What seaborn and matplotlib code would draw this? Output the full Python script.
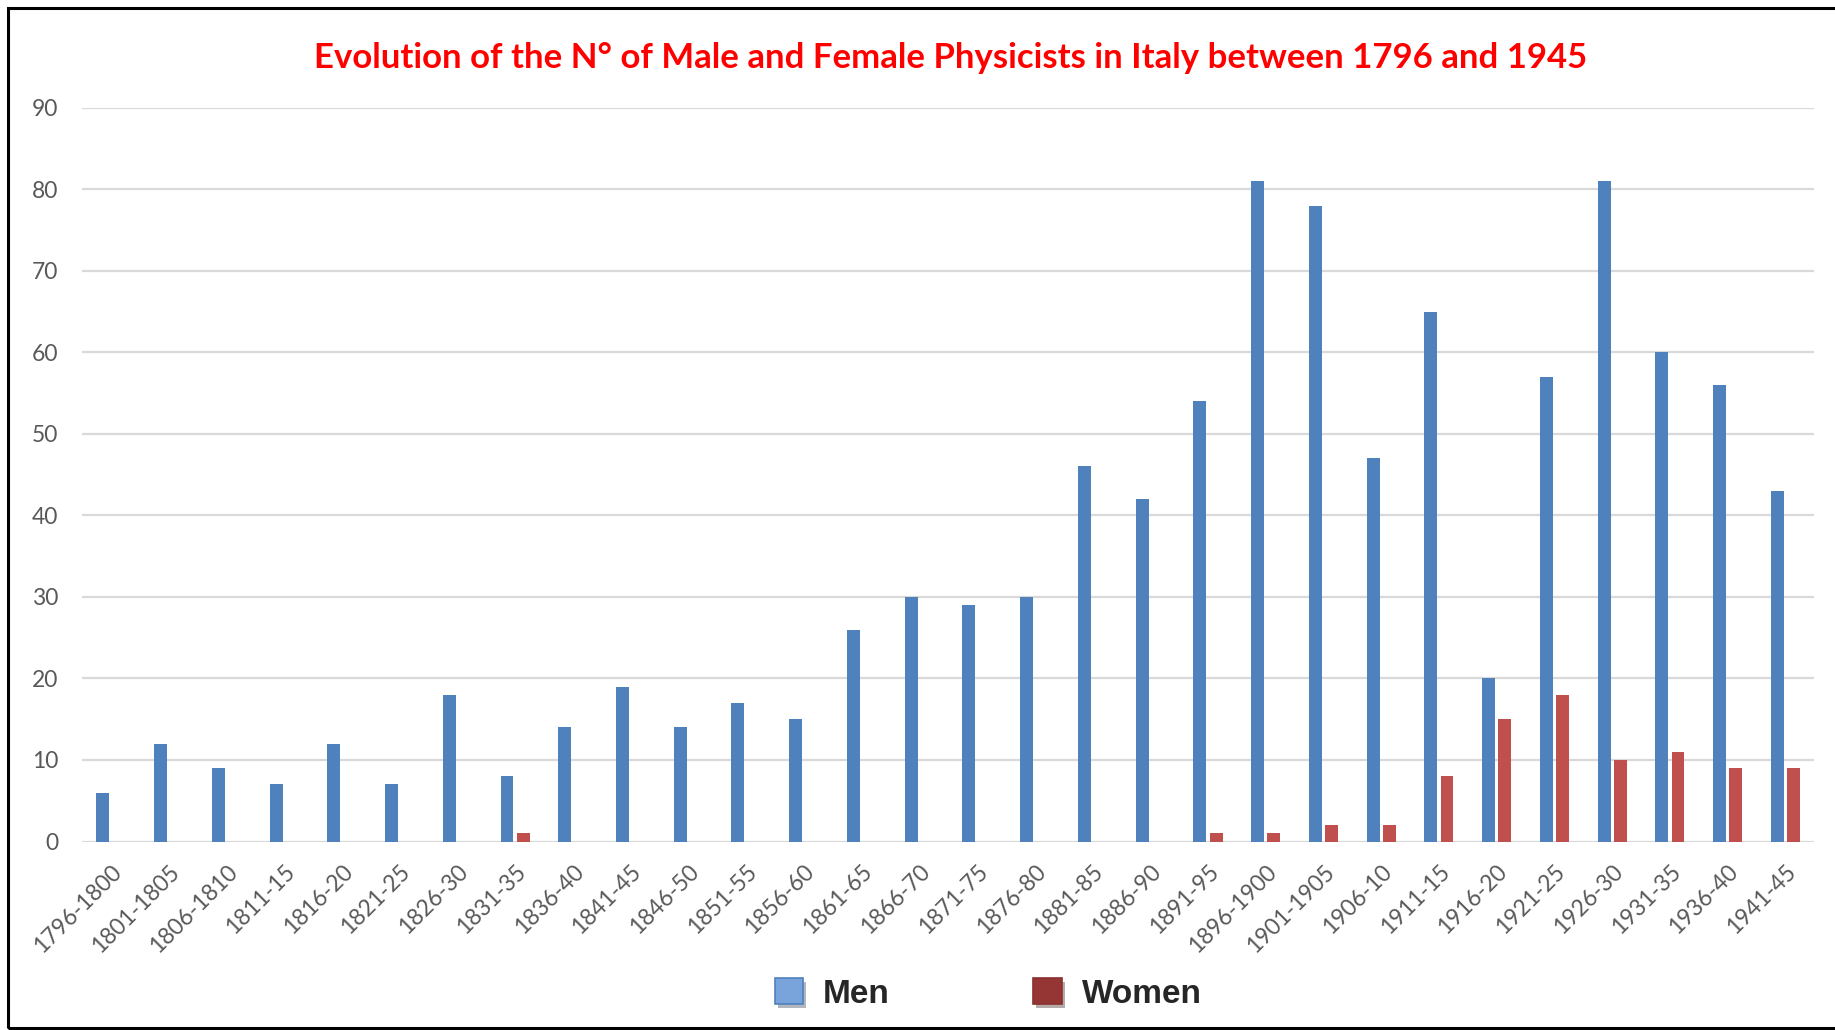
import numpy as np
import pandas as pd
import matplotlib
matplotlib.use("Agg")
import matplotlib.pyplot as plt
import matplotlib.patheffects as pe
from matplotlib.patches import Patch, Rectangle
import seaborn as sns

# Données
periodes = ["1796-1800", "1801-1805", "1806-1810", "1811-15", "1816-20", "1821-25",
            "1826-30", "1831-35", "1836-40", "1841-45", "1846-50", "1851-55",
            "1856-60", "1861-65", "1866-70", "1871-75", "1876-80", "1881-85",
            "1886-90", "1891-95", "1896-1900", "1901-1905", "1906-10", "1911-15",
            "1916-20", "1921-25", "1926-30", "1931-35", "1936-40", "1941-45"]
hommes = [6, 12, 9, 7, 12, 7, 18, 8, 14, 19, 14, 17, 15, 26, 30, 29, 30, 46,
          42, 54, 81, 78, 47, 65, 20, 57, 81, 60, 56, 43]
femmes = [0, 0, 0, 0, 0, 0, 0, 1, 0, 0, 0, 0, 0, 0, 0, 0, 0, 0,
          0, 1, 1, 2, 2, 8, 15, 18, 10, 11, 9, 9]
series = ["Men", "Women"]
yticks = [0, 10, 20, 30, 40, 50, 60, 70, 80, 90]

df = pd.DataFrame({
    "periode": periodes * 2,
    "nombre": hommes + femmes,
    "sexe": [series[0]] * len(periodes) + [series[1]] * len(periodes),
})

sns.set_style("white")
plt.rcParams["font.family"] = ["Lato", "DejaVu Sans"]

fig = plt.figure(figsize=(18.35, 10.30), dpi=100)
ax = fig.add_axes([0.0447, 0.183, 0.944, 0.7124])

couleurs = {"Men": "#4F81BD", "Women": "#C0504D"}
sns.barplot(data=df, x="periode", y="nombre", hue="sexe", palette=couleurs,
            saturation=1, width=0.56, gap=0.2, ax=ax, legend=False, zorder=3,
            edgecolor="none")

ax.set_ylim(0, 90)
ax.set_xlim(-0.5, len(periodes) - 0.5)
ax.set_yticks(yticks)
ax.yaxis.grid(True, color="#D9D9D9", linewidth=1.6, zorder=0)
ax.set_axisbelow(True)
for s in ax.spines.values():
    s.set_visible(False)
ax.set_xlabel("")
ax.set_ylabel("")
ax.tick_params(axis="both", length=0, colors="#595959", labelsize=16.5)
ax.tick_params(axis="y", pad=17)
plt.setp(ax.get_xticklabels(), rotation=45, ha="right", rotation_mode="anchor")
ax.tick_params(axis="x", pad=14)

fig.text(0.518, 0.944,
         "Evolution of the N° of Male and Female Physicists in Italy between 1796 and 1945",
         color="red", fontsize=25, fontweight="bold", ha="center", va="center")

ombre = [pe.SimplePatchShadow(offset=(2, -3), alpha=0.35), pe.Normal()]
poignees = [Patch(facecolor="#79A3DB", edgecolor="#4F81BD", linewidth=1.2, path_effects=ombre),
            Patch(facecolor="#963634", edgecolor="#8A3030", linewidth=1.2, path_effects=ombre)]
fig.legend(poignees, series, loc="center", bbox_to_anchor=(0.5386, 0.0353), ncol=2,
           frameon=False, handlelength=0.85, handleheight=0.85, columnspacing=4.3,
           handletextpad=0.6,
           prop={"family": ["Liberation Sans", "DejaVu Sans"], "weight": "bold", "size": 24})

# Cadre noir autour de la figure
fig.patches.append(Rectangle((8 / 1835, 2 / 1030), 1.2, 1020 / 1030, transform=fig.transFigure,
                             fill=False, edgecolor="black", linewidth=2.2))

fig.savefig("out.png", dpi=100)
